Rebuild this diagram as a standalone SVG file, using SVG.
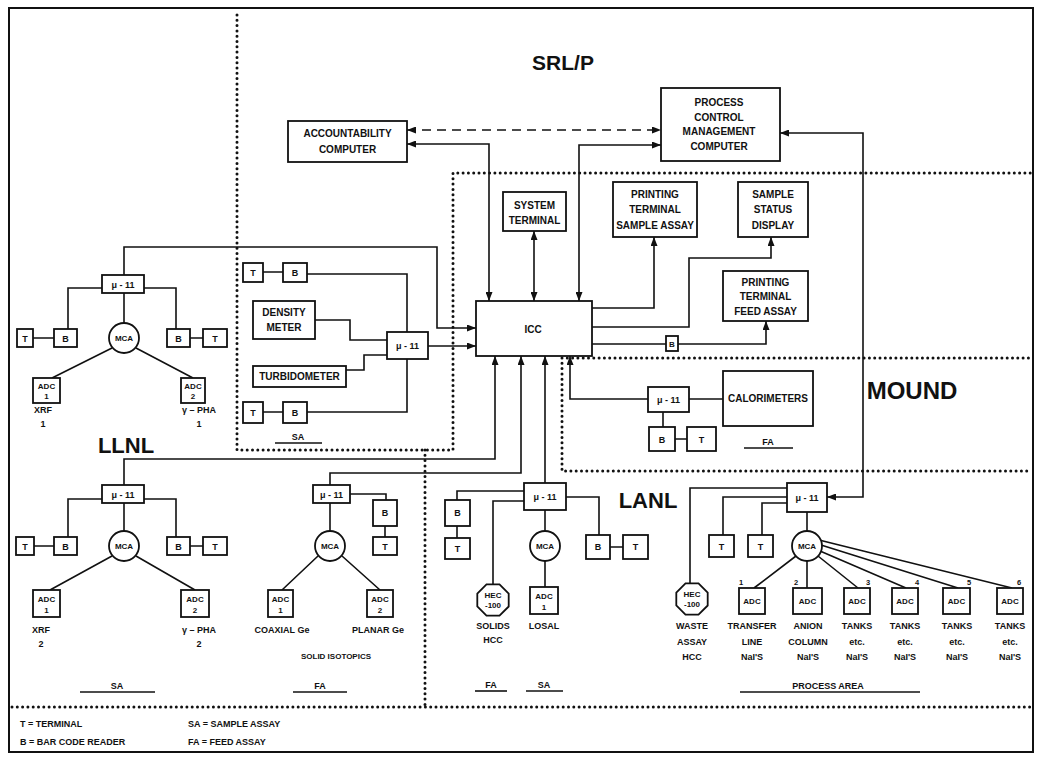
<svg xmlns="http://www.w3.org/2000/svg" width="1037" height="758" viewBox="0 0 1037 758">
<style>
.box{fill:#fff;stroke:#111;stroke-width:1.8}
.ln{fill:none;stroke:#111;stroke-width:1.6}
.ar{fill:none;stroke:#111;stroke-width:1.6;marker-end:url(#ah)}
.ar2{fill:none;stroke:#111;stroke-width:1.6;marker-start:url(#ah);marker-end:url(#ah)}
.dash{fill:none;stroke:#111;stroke-width:1.6;stroke-dasharray:9 6;marker-start:url(#ah);marker-end:url(#ah)}
.dot{fill:none;stroke:#111;stroke-width:3;stroke-dasharray:0 5.3;stroke-linecap:round}
text{font-family:'Liberation Sans',Arial,sans-serif;font-weight:bold;fill:#111;text-anchor:middle}
.t10{font-size:10px}
.t9{font-size:9px}
.t8{font-size:8px}
.t7{font-size:7.5px}
.big{font-size:22px}
.lg{font-size:9px;text-anchor:start}
</style>
<defs>
<marker id="ah" markerUnits="userSpaceOnUse" markerWidth="9" markerHeight="7" refX="9" refY="3.5" orient="auto-start-reverse"><path d="M0,0 L9,3.5 L0,7 Z" fill="#111"/></marker>
<polygon id="oct" points="15.7,6.5 6.5,15.7 -6.5,15.7 -15.7,6.5 -15.7,-6.5 -6.5,-15.7 6.5,-15.7 15.7,-6.5" class="box"/>
</defs>
<rect x="9" y="8" width="1024" height="744" fill="#fff" stroke="#111" stroke-width="2"/>

<g id="regions">
<path class="dot" d="M237,15 V450 H453 V173 H1031"/>
<path class="dot" d="M425,450 V707"/>
<path class="dot" d="M12,707 H1031"/>
<path class="dot" d="M562,358 H1031 M562,358 V471 H1031"/>
<text class="big" x="563" y="70" style="font-size:21px">SRL/P</text>
<text class="big" x="912" y="399" style="font-size:24px">MOUND</text>
<text class="big" x="126" y="453">LLNL</text>
<text class="big" x="648" y="508">LANL</text>
</g>

<g id="connectors">
<path class="dash" d="M407,130 H661"/>
<path class="ar2" d="M407,144 H489 V301"/>
<path class="ar2" d="M534,231 V301"/>
<path class="ar2" d="M661,145 H579 V301"/>
<path class="ar" d="M592,308 H654 V237"/>
<path class="ar" d="M592,327 H689 V258 H771 V237"/>
<path class="ar" d="M592,344 H766 V321"/>
<path class="ar2" d="M780,133 H863 V497 H827"/>
<path class="ar" d="M124,275 V247 H437 V328 H476"/>
<path class="ar" d="M428,346 H476"/>
<path class="ar" d="M124,485 V459 H495 V356"/>
<path class="ar" d="M330,485 V473 H521 V356"/>
<path class="ar" d="M545,483 V356"/>
<path class="ar" d="M648,399 H570 V356"/>
<path class="ln" d="M263,272 H283 M307,274 H407 V332 M315,320 H350 V340 H387 M346,370 H364 V355 H387 M263,412 H283 M307,412 H407 V359"/>
<path class="ln" d="M33,338 H54 M102,288 H68 V329 M144,288 H176 V329 M190,338 H203 M124,293 V323 M112,348 L52,378 M136,348 L193,378"/>
<path class="ln" d="M34,546 H54 M102,499 H68 V537 M144,499 H176 V537 M190,546 H203 M124,503 V531 M112,556 L50,590 M136,556 L195,590"/>
<path class="ln" d="M350,494 H386 V500 M385,526 V537 M330,503 V531 M318,556 L282,590 M342,556 L380,590"/>
<path class="ln" d="M524,491 H457 V500 M457,526 V538 M524,501 H493 V584 M566,497 H599 V535 M610,547 H623 M545,510 V531 M545,561 V587"/>
<path class="ln" d="M689,399 H723 M663,412 V427 M675,439 H687"/>
<path class="ln" d="M787,488 H690 V583 M787,497 H723 V535 M787,503 H762 V535 M807,512 V531 M796,556 L754,588 M807,561 V588 M818,556 L858,588 M820,551 L906,588 M821,545 L958,588 M819,540 L1012,588"/>
</g>

<g id="accountability"><rect class="box" x="288" y="121" width="119" height="41"/><text class="t10" x="347.5" y="137">ACCOUNTABILITY</text><text class="t10" x="347.5" y="153">COMPUTER</text></g>
<g id="pcmc"><rect class="box" x="661" y="88" width="119" height="73"/><text class="t10" x="719" y="106">PROCESS</text><text class="t10" x="719" y="121">CONTROL</text><text class="t10" x="719" y="135">MANAGEMENT</text><text class="t10" x="719" y="150">COMPUTER</text></g>
<g id="icc"><rect class="box" x="476" y="301" width="116" height="55"/><text class="t10" x="533" y="333">ICC</text></g>
<g id="systerm"><rect class="box" x="503" y="192" width="63" height="39"/><text class="t10" x="534.5" y="209">SYSTEM</text><text class="t10" x="534.5" y="224">TERMINAL</text></g>
<g id="ptsa"><rect class="box" x="613" y="182" width="84" height="55"/><text class="t10" x="655" y="198">PRINTING</text><text class="t10" x="655" y="213">TERMINAL</text><text class="t10" x="655" y="229">SAMPLE ASSAY</text></g>
<g id="ssd"><rect class="box" x="738" y="182" width="70" height="55"/><text class="t10" x="773" y="198">SAMPLE</text><text class="t10" x="773" y="213">STATUS</text><text class="t10" x="773" y="229">DISPLAY</text></g>
<g id="ptfa"><rect class="box" x="723" y="271" width="85" height="50"/><text class="t10" x="765.5" y="286">PRINTING</text><text class="t10" x="765.5" y="300">TERMINAL</text><text class="t10" x="765.5" y="315">FEED ASSAY</text></g>
<g id="icc-b"><rect class="box" x="666" y="336" width="12" height="15"/><text class="t8" x="672" y="347">B</text></g>

<g id="sa-t1"><rect class="box" x="243" y="263" width="20" height="19"/><text class="t9" x="253" y="276">T</text></g>
<g id="sa-b1"><rect class="box" x="283" y="263" width="24" height="19"/><text class="t9" x="295" y="276">B</text></g>
<g id="density"><rect class="box" x="253" y="301" width="62" height="38"/><text class="t10" x="284" y="316">DENSITY</text><text class="t10" x="284" y="331">METER</text></g>
<g id="turbid"><rect class="box" x="253" y="366" width="93" height="21"/><text class="t10" x="299.5" y="380">TURBIDOMETER</text></g>
<g id="sa-t2"><rect class="box" x="243" y="402" width="20" height="21"/><text class="t9" x="253" y="416">T</text></g>
<g id="sa-b2"><rect class="box" x="283" y="402" width="24" height="21"/><text class="t9" x="295" y="416">B</text></g>
<g id="sa-mu"><rect class="box" x="387" y="332" width="41" height="27"/><text class="t9" x="407.5" y="349">μ - 11</text></g>
<g id="sa-label"><text class="t9" x="298" y="440">SA</text><path class="ln" d="M275,443 H322"/></g>

<g id="llnl1-mu"><rect class="box" x="102" y="275" width="42" height="18"/><text class="t9" x="123" y="288">μ - 11</text></g>
<g id="llnl1-t1"><rect class="box" x="17" y="329" width="16" height="18"/><text class="t9" x="25" y="342">T</text></g>
<g id="llnl1-b1"><rect class="box" x="54" y="329" width="23" height="18"/><text class="t9" x="65.5" y="342">B</text></g>
<g id="llnl1-b2"><rect class="box" x="167" y="329" width="23" height="18"/><text class="t9" x="178.5" y="342">B</text></g>
<g id="llnl1-t2"><rect class="box" x="203" y="329" width="24" height="18"/><text class="t9" x="215" y="342">T</text></g>
<g id="llnl1-mca"><circle class="box" cx="124" cy="338" r="15"/><text class="t8" x="124" y="341">MCA</text></g>
<g id="llnl1-adc1"><rect class="box" x="33" y="378" width="27" height="25"/><text class="t8" x="46.5" y="389">ADC</text><text class="t8" x="46.5" y="399">1</text><text class="t9" x="43" y="413">XRF</text><text class="t9" x="43" y="427">1</text></g>
<g id="llnl1-adc2"><rect class="box" x="181" y="378" width="24" height="25"/><text class="t8" x="193" y="389">ADC</text><text class="t8" x="193" y="399">2</text><text class="t9" x="199" y="413">γ – PHA</text><text class="t9" x="199" y="427">1</text></g>

<g id="llnl2-mu"><rect class="box" x="102" y="485" width="42" height="18"/><text class="t9" x="123" y="498">μ - 11</text></g>
<g id="llnl2-t1"><rect class="box" x="16" y="537" width="18" height="18"/><text class="t9" x="25" y="550">T</text></g>
<g id="llnl2-b1"><rect class="box" x="54" y="537" width="23" height="18"/><text class="t9" x="65.5" y="550">B</text></g>
<g id="llnl2-b2"><rect class="box" x="167" y="537" width="23" height="18"/><text class="t9" x="178.5" y="550">B</text></g>
<g id="llnl2-t2"><rect class="box" x="203" y="537" width="24" height="18"/><text class="t9" x="215" y="550">T</text></g>
<g id="llnl2-mca"><circle class="box" cx="124" cy="546" r="15"/><text class="t8" x="124" y="549">MCA</text></g>
<g id="llnl2-adc1"><rect class="box" x="33" y="590" width="27" height="27"/><text class="t8" x="46.5" y="602">ADC</text><text class="t8" x="46.5" y="613">1</text><text class="t9" x="41" y="633">XRF</text><text class="t9" x="41" y="647">2</text></g>
<g id="llnl2-adc2"><rect class="box" x="181" y="590" width="28" height="27"/><text class="t8" x="195" y="602">ADC</text><text class="t8" x="195" y="613">2</text><text class="t9" x="199" y="633">γ – PHA</text><text class="t9" x="199" y="647">2</text></g>
<g id="llnl2-sa"><text class="t9" x="117" y="689">SA</text><path class="ln" d="M80,692 H155"/></g>

<g id="fa-mu"><rect class="box" x="313" y="485" width="37" height="18"/><text class="t9" x="331.5" y="498">μ - 11</text></g>
<g id="fa-b"><rect class="box" x="373" y="500" width="24" height="26"/><text class="t9" x="385" y="516">B</text></g>
<g id="fa-t"><rect class="box" x="373" y="537" width="24" height="18"/><text class="t9" x="385" y="550">T</text></g>
<g id="fa-mca"><circle class="box" cx="330" cy="546" r="15"/><text class="t8" x="330" y="549">MCA</text></g>
<g id="fa-adc1"><rect class="box" x="268" y="590" width="25" height="27"/><text class="t8" x="280.5" y="602">ADC</text><text class="t8" x="280.5" y="613">1</text><text class="t9" x="282" y="633">COAXIAL Ge</text></g>
<g id="fa-adc2"><rect class="box" x="367" y="590" width="26" height="27"/><text class="t8" x="380" y="602">ADC</text><text class="t8" x="380" y="613">2</text><text class="t9" x="378" y="633">PLANAR Ge</text></g>
<g id="fa-label"><text class="t8" x="336" y="659">SOLID ISOTOPICS</text><text class="t9" x="320" y="689">FA</text><path class="ln" d="M293,692 H347"/></g>

<g id="lanl-mu"><rect class="box" x="524" y="483" width="42" height="27"/><text class="t9" x="545" y="500">μ - 11</text></g>
<g id="lanl-b1"><rect class="box" x="445" y="500" width="25" height="26"/><text class="t9" x="457.5" y="516">B</text></g>
<g id="lanl-t1"><rect class="box" x="445" y="538" width="25" height="21"/><text class="t9" x="457.5" y="552">T</text></g>
<g id="lanl-hec"><use href="#oct" x="493" y="600"/><text class="t8" x="493" y="598">HEC</text><text class="t8" x="493" y="608">-100</text><text class="t9" x="493" y="629">SOLIDS</text><text class="t9" x="493" y="643">HCC</text></g>
<g id="lanl-mca"><circle class="box" cx="545" cy="546" r="15"/><text class="t8" x="545" y="549">MCA</text></g>
<g id="lanl-adc"><rect class="box" x="530" y="587" width="28" height="27"/><text class="t8" x="544" y="599">ADC</text><text class="t8" x="544" y="610">1</text><text class="t9" x="544" y="629">LOSAL</text></g>
<g id="lanl-b2"><rect class="box" x="586" y="535" width="24" height="24"/><text class="t9" x="598" y="550">B</text></g>
<g id="lanl-t2"><rect class="box" x="623" y="535" width="25" height="24"/><text class="t9" x="635.5" y="550">T</text></g>
<g id="lanl-labels"><text class="t9" x="491" y="688">FA</text><path class="ln" d="M475,691 H507"/><text class="t9" x="544" y="688">SA</text><path class="ln" d="M526,691 H563"/></g>

<g id="mound-mu"><rect class="box" x="648" y="387" width="41" height="25"/><text class="t9" x="668.5" y="403">μ - 11</text></g>
<g id="calorimeters"><rect class="box" x="723" y="371" width="90" height="55"/><text class="t10" x="768" y="402">CALORIMETERS</text></g>
<g id="mound-b"><rect class="box" x="649" y="427" width="26" height="24"/><text class="t9" x="662" y="443">B</text></g>
<g id="mound-t"><rect class="box" x="687" y="427" width="29" height="24"/><text class="t9" x="701.5" y="443">T</text></g>
<g id="mound-fa"><text class="t9" x="768" y="445">FA</text><path class="ln" d="M744,448 H793"/></g>

<g id="pa-mu"><rect class="box" x="787" y="483" width="40" height="29"/><text class="t9" x="807" y="501">μ - 11</text></g>
<g id="pa-t1"><rect class="box" x="709" y="535" width="25" height="22"/><text class="t9" x="721.5" y="550">T</text></g>
<g id="pa-t2"><rect class="box" x="748" y="535" width="25" height="22"/><text class="t9" x="760.5" y="550">T</text></g>
<g id="pa-hec"><use href="#oct" x="692" y="599"/><text class="t8" x="692" y="597">HEC</text><text class="t8" x="692" y="607">-100</text><text class="t9" x="692" y="629">WASTE</text><text class="t9" x="692" y="645">ASSAY</text><text class="t9" x="692" y="660">HCC</text></g>
<g id="pa-mca"><circle class="box" cx="807" cy="546" r="15"/><text class="t8" x="807" y="549">MCA</text></g>
<g id="pa-adc1"><rect class="box" x="739" y="588" width="26" height="26"/><text class="t8" x="752" y="604">ADC</text><text class="t7" x="741" y="585">1</text><text class="t9" x="752" y="629">TRANSFER</text><text class="t9" x="752" y="645">LINE</text><text class="t9" x="752" y="660">NaI'S</text></g>
<g id="pa-adc2"><rect class="box" x="793" y="588" width="29" height="26"/><text class="t8" x="807.5" y="604">ADC</text><text class="t7" x="796" y="585">2</text><text class="t9" x="808" y="629">ANION</text><text class="t9" x="808" y="645">COLUMN</text><text class="t9" x="808" y="660">NaI'S</text></g>
<g id="pa-adc3"><rect class="box" x="844" y="588" width="26" height="26"/><text class="t8" x="857" y="604">ADC</text><text class="t7" x="868" y="585">3</text><text class="t9" x="857" y="629">TANKS</text><text class="t9" x="857" y="645">etc.</text><text class="t9" x="857" y="660">NaI'S</text></g>
<g id="pa-adc4"><rect class="box" x="892" y="588" width="26" height="26"/><text class="t8" x="905" y="604">ADC</text><text class="t7" x="917" y="585">4</text><text class="t9" x="905" y="629">TANKS</text><text class="t9" x="905" y="645">etc.</text><text class="t9" x="905" y="660">NaI'S</text></g>
<g id="pa-adc5"><rect class="box" x="943" y="588" width="27" height="26"/><text class="t8" x="956.5" y="604">ADC</text><text class="t7" x="969" y="585">5</text><text class="t9" x="957" y="629">TANKS</text><text class="t9" x="957" y="645">etc.</text><text class="t9" x="957" y="660">NaI'S</text></g>
<g id="pa-adc6"><rect class="box" x="997" y="588" width="26" height="26"/><text class="t8" x="1010" y="604">ADC</text><text class="t7" x="1019" y="585">6</text><text class="t9" x="1010" y="629">TANKS</text><text class="t9" x="1010" y="645">etc.</text><text class="t9" x="1010" y="660">NaI'S</text></g>
<g id="pa-label"><text class="t9" x="828" y="689">PROCESS AREA</text><path class="ln" d="M740,692 H920"/></g>

<g id="legend">
<text class="lg" x="20" y="727">T = TERMINAL</text>
<text class="lg" x="20" y="745">B = BAR CODE READER</text>
<text class="lg" x="188" y="727">SA = SAMPLE ASSAY</text>
<text class="lg" x="188" y="745">FA = FEED ASSAY</text>
</g>
</svg>
